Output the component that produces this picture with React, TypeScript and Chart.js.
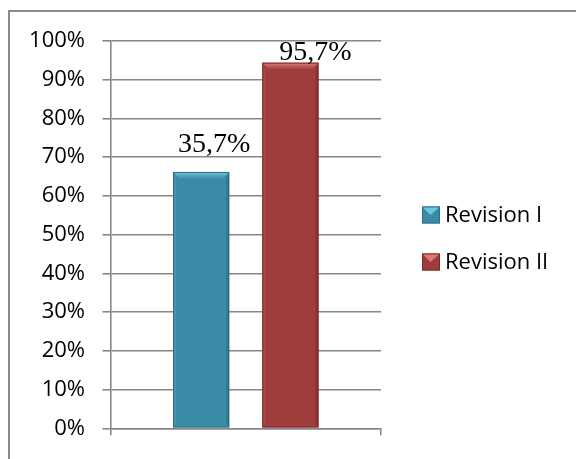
import React, { useEffect, useRef } from "react";
import { Chart, registerables } from "chart.js";

Chart.register(...registerables);

const categories = [""];
const seriesNames = ["Revision I", "Revision II"];
const revisionI = [66.2];
const revisionII = [94.4];
const dataLabels = ["35,7%", "95,7%"];
const yTicks = [0, 10, 20, 30, 40, 50, 60, 70, 80, 90, 100];

const COLORS = ["#3A8BA5", "#9F3C3C"];
const LIGHT = ["#6CC8E2", "#E27878"];
const DARK = ["#2C6F87", "#7A2A2A"];
const LABEL_OFFSETS = [
  { dx: 13, dy: 20 },
  { dx: 25, dy: 3 },
];
const GRID = "#878787";

const framePlugin = {
  id: "frame",
  beforeDraw(chart: any) {
    const ctx = chart.ctx;
    ctx.save();
    ctx.fillStyle = "#ffffff";
    ctx.fillRect(0, 0, chart.width, chart.height);
    ctx.strokeStyle = "#8A8A8A";
    ctx.lineWidth = 2;
    ctx.beginPath();
    ctx.moveTo(9, chart.height);
    ctx.lineTo(9, 11);
    ctx.lineTo(chart.width, 11);
    ctx.stroke();
    ctx.restore();
  },
};

const bevelPlugin = {
  id: "bevel",
  afterDatasetsDraw(chart: any) {
    const ctx = chart.ctx;
    chart.data.datasets.forEach((ds: any, di: number) => {
      const meta = chart.getDatasetMeta(di);
      meta.data.forEach((bar: any) => {
        const { x, y, base, width } = bar.getProps(["x", "y", "base", "width"], true);
        const l = x - width / 2;
        const r = x + width / 2;
        const b = 7;
        ctx.save();
        const g = ctx.createLinearGradient(0, y, 0, y + b);
        g.addColorStop(0, LIGHT[di]);
        g.addColorStop(1, COLORS[di]);
        ctx.fillStyle = g;
        ctx.beginPath();
        ctx.moveTo(l, y);
        ctx.lineTo(r, y);
        ctx.lineTo(r - b, y + b);
        ctx.lineTo(l + b, y + b);
        ctx.closePath();
        ctx.fill();
        ctx.fillStyle = "rgba(0,0,0,0.14)";
        ctx.beginPath();
        ctx.moveTo(r, y);
        ctx.lineTo(r, base);
        ctx.lineTo(r - 3, base - 3);
        ctx.lineTo(r - 3, y + b);
        ctx.closePath();
        ctx.fill();
        ctx.fillStyle = "rgba(255,255,255,0.08)";
        ctx.beginPath();
        ctx.moveTo(l, y);
        ctx.lineTo(l, base);
        ctx.lineTo(l + 3, base - 3);
        ctx.lineTo(l + 3, y + b);
        ctx.closePath();
        ctx.fill();
        ctx.strokeStyle = DARK[di];
        ctx.lineWidth = 1;
        ctx.strokeRect(l + 0.5, y + 0.5, width - 1, base - y - 1);
        ctx.restore();
      });
    });
  },
  afterDraw(chart: any) {
    const ctx = chart.ctx;
    ctx.save();
    ctx.font = '28px "Liberation Serif"';
    ctx.fillStyle = "#000";
    ctx.textAlign = "center";
    ctx.textBaseline = "alphabetic";
    chart.data.datasets.forEach((ds: any, di: number) => {
      const meta = chart.getDatasetMeta(di);
      const bar: any = meta.data[0];
      const off = LABEL_OFFSETS[di];
      ctx.fillText(dataLabels[di], bar.x + off.dx, bar.y - off.dy);
    });
    ctx.font = '22px "Open Sans"';
    ctx.textAlign = "left";
    ctx.textBaseline = "middle";
    const rows = [215, 262];
    chart.data.datasets.forEach((ds: any, di: number) => {
      const cy = rows[di];
      const sx = 422, sz = 17;
      const sy = cy - sz / 2;
      ctx.fillStyle = COLORS[di];
      ctx.fillRect(sx, sy, sz + 1, sz);
      ctx.fillStyle = LIGHT[di];
      ctx.beginPath();
      ctx.moveTo(sx, sy);
      ctx.lineTo(sx + sz + 1, sy);
      ctx.lineTo(sx + sz / 2, cy);
      ctx.closePath();
      ctx.fill();
      ctx.strokeStyle = DARK[di];
      ctx.lineWidth = 1;
      ctx.strokeRect(sx + 0.5, sy + 0.5, sz, sz - 1);
      ctx.fillStyle = "#000";
      ctx.fillText(ds.label, 445, cy + 1);
    });
    ctx.restore();
  },
};

export default function App() {
  const ref = useRef<HTMLCanvasElement | null>(null);
  useEffect(() => {
    document.body.style.margin = "0";
    const canvas = ref.current!;
    const chart = new Chart(canvas, {
      type: "bar",
      data: {
        labels: categories,
        datasets: [
          { label: seriesNames[0], data: revisionI, backgroundColor: COLORS[0] },
          { label: seriesNames[1], data: revisionII, backgroundColor: COLORS[1] },
        ],
      },
      options: {
        animation: false,
        responsive: false,
        devicePixelRatio: 1,
        categoryPercentage: 0.66,
        barPercentage: 0.63,
        layout: { padding: { left: 0, top: 41, right: 195, bottom: 21 } },
        plugins: { legend: { display: false }, tooltip: { enabled: false } },
        scales: {
          x: {
            grid: { drawOnChartArea: false, drawTicks: true, tickLength: 7, color: GRID, lineWidth: 1.6 },
            border: { display: true, color: GRID, width: 1.6 },
            ticks: { display: false },
          },
          y: {
            min: 0,
            max: 100,
            afterFit: (s: any) => { s.width = 110.5; },
            afterBuildTicks: (s: any) => { s.ticks = yTicks.map((v) => ({ value: v })); },
            grid: { color: GRID, lineWidth: 1.6, tickLength: 8 },
            border: { display: true, color: GRID, width: 1.6 },
            ticks: {
              padding: 17.5,
              color: "#000",
              font: { family: "Open Sans", size: 22 },
              callback: (v: any) => v + "%",
            },
          },
        },
      },
      plugins: [framePlugin, bevelPlugin],
    });
    return () => chart.destroy();
  }, []);
  return <canvas ref={ref} width={576} height={459} style={{ display: "block" }} />;
}
